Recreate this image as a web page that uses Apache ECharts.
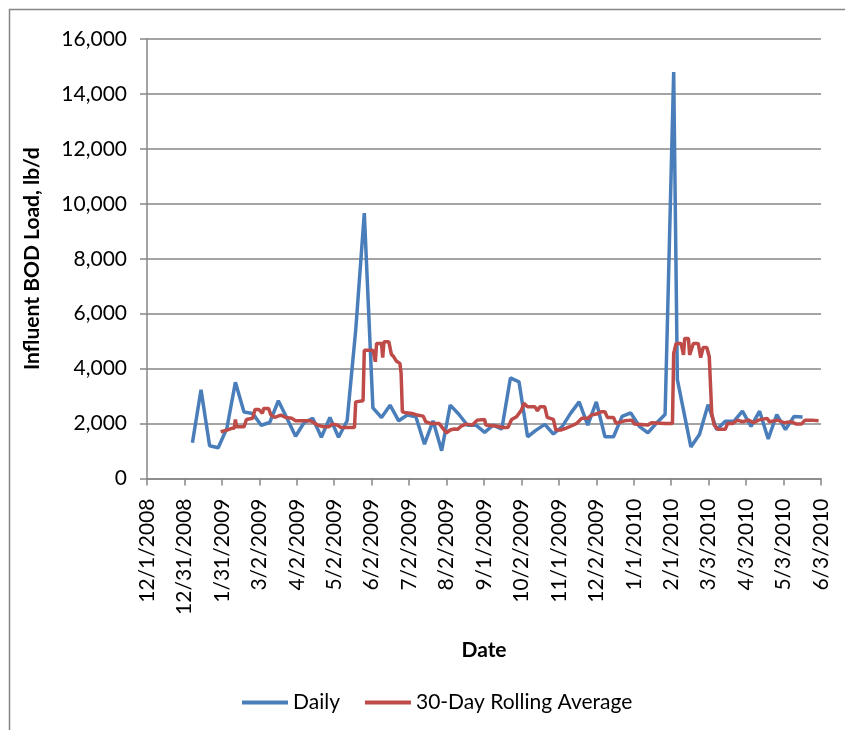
<!DOCTYPE html>
<html>
<head>
<meta charset="utf-8">
<script src="https://cdn.jsdelivr.net/npm/echarts@6/dist/echarts.min.js"></script>
<style>
  html, body { margin: 0; padding: 0; background: #fff; }
  #chart { width: 845px; height: 730px; }
</style>
</head>
<body>
<div id="chart"></div>
<script>
// weekly influent samples, lb/d
const dailyDates = [
  '2009-01-07', '2009-01-14', '2009-01-21', '2009-01-28', '2009-02-04', '2009-02-11',
  '2009-02-18', '2009-02-25', '2009-03-04', '2009-03-11', '2009-03-18', '2009-03-25',
  '2009-04-01', '2009-04-08', '2009-04-15', '2009-04-22', '2009-04-29', '2009-05-06',
  '2009-05-13', '2009-05-20', '2009-05-27', '2009-06-03', '2009-06-10', '2009-06-17',
  '2009-06-24', '2009-07-01', '2009-07-08', '2009-07-15', '2009-07-22', '2009-07-29',
  '2009-08-05', '2009-08-12', '2009-08-19', '2009-08-26', '2009-09-02', '2009-09-09',
  '2009-09-16', '2009-09-23', '2009-09-30', '2009-10-07', '2009-10-14', '2009-10-21',
  '2009-10-28', '2009-11-04', '2009-11-11', '2009-11-18', '2009-11-25', '2009-12-02',
  '2009-12-09', '2009-12-16', '2009-12-23', '2009-12-30', '2010-01-06', '2010-01-13',
  '2010-01-20', '2010-01-27', '2010-02-03', '2010-02-06', '2010-02-17', '2010-02-24',
  '2010-03-03', '2010-03-10', '2010-03-17', '2010-03-24', '2010-03-31', '2010-04-07',
  '2010-04-14', '2010-04-21', '2010-04-28', '2010-05-05', '2010-05-12', '2010-05-19'
]
const dailyLoad = [
  1300, 3230, 1190, 1120, 1820, 3500,
  2420, 2370, 1940, 2040, 2830, 2190,
  1540, 2040, 2190, 1500, 2220, 1500,
  2100, 5400, 9660, 2570, 2220, 2670,
  2100, 2310, 2250, 1250, 2100, 1010,
  2670, 2340, 1940, 1940, 1680, 1940,
  1800, 3660, 3520, 1520, 1760, 1970,
  1620, 1880, 2370, 2790, 1940, 2790,
  1520, 1520, 2260, 2390, 1900, 1660,
  2020, 2330, 14800, 3600, 1150, 1600,
  2690, 1780, 2080, 2080, 2450, 1900,
  2450, 1440, 2330, 1780, 2260, 2240
]

// 30-day rolling average (points where the level changes)
const avgDates = [
  '2009-01-30', '2009-02-04', '2009-02-08', '2009-02-10', '2009-02-11', '2009-02-12',
  '2009-02-18', '2009-02-20', '2009-02-25', '2009-02-27', '2009-03-02', '2009-03-05',
  '2009-03-06', '2009-03-10', '2009-03-12', '2009-03-15', '2009-03-20', '2009-03-24',
  '2009-03-29', '2009-04-01', '2009-04-13', '2009-04-16', '2009-04-19', '2009-04-24',
  '2009-04-28', '2009-05-01', '2009-05-05', '2009-05-08', '2009-05-19', '2009-05-20',
  '2009-05-26', '2009-05-27', '2009-06-03', '2009-06-05', '2009-06-06', '2009-06-10',
  '2009-06-11', '2009-06-12', '2009-06-16', '2009-06-18', '2009-06-20', '2009-06-22',
  '2009-06-25', '2009-06-26', '2009-06-27', '2009-06-30', '2009-07-05', '2009-07-09',
  '2009-07-14', '2009-07-16', '2009-07-20', '2009-07-27', '2009-07-30', '2009-08-02',
  '2009-08-05', '2009-08-08', '2009-08-11', '2009-08-14', '2009-08-18', '2009-08-23',
  '2009-08-27', '2009-09-02', '2009-09-03', '2009-09-11', '2009-09-17', '2009-09-21',
  '2009-09-24', '2009-09-28', '2009-10-02', '2009-10-04', '2009-10-07', '2009-10-13',
  '2009-10-15', '2009-10-17', '2009-10-21', '2009-10-23', '2009-10-28', '2009-10-30',
  '2009-11-03', '2009-11-07', '2009-11-12', '2009-11-16', '2009-11-20', '2009-11-25',
  '2009-11-28', '2009-12-02', '2009-12-06', '2009-12-09', '2009-12-11', '2009-12-16',
  '2009-12-18', '2009-12-25', '2009-12-31', '2010-01-02', '2010-01-13', '2010-01-16',
  '2010-01-27', '2010-02-02', '2010-02-03', '2010-02-05', '2010-02-09', '2010-02-11',
  '2010-02-12', '2010-02-15', '2010-02-16', '2010-02-19', '2010-02-23', '2010-02-25',
  '2010-02-27', '2010-03-02', '2010-03-04', '2010-03-06', '2010-03-08', '2010-03-11',
  '2010-03-17', '2010-03-19', '2010-03-23', '2010-03-27', '2010-03-31', '2010-04-05',
  '2010-04-09', '2010-04-13', '2010-04-20', '2010-04-22', '2010-04-29', '2010-05-04',
  '2010-05-10', '2010-05-14', '2010-05-18', '2010-05-21', '2010-05-26', '2010-06-01'
]
const avgLoad = [
  1700, 1760, 1825, 1825, 2150, 1880,
  1880, 2150, 2190, 2515, 2515, 2370,
  2550, 2550, 2310, 2225, 2310, 2225,
  2190, 2100, 2100, 2030, 1945, 1880,
  1880, 1980, 1945, 1860, 1860, 2790,
  2830, 4670, 4670, 4250, 4915, 4915,
  4400, 4975, 4975, 4525, 4430, 4280,
  4190, 3825, 2430, 2390, 2370, 2310,
  2270, 2065, 2005, 2005, 1825, 1665,
  1765, 1800, 1790, 1910, 1980, 1945,
  2125, 2150, 1945, 1910, 1860, 1860,
  2150, 2250, 2490, 2735, 2610, 2610,
  2465, 2610, 2610, 2225, 2150, 1765,
  1765, 1825, 1920, 2005, 2190, 2190,
  2310, 2345, 2430, 2430, 2225, 2225,
  2005, 2100, 2125, 1980, 1945, 2030,
  2005, 2005, 4550, 4915, 4915, 4500,
  5100, 5100, 4500, 4915, 4915, 4400,
  4770, 4770, 4430, 2370, 1945, 1790,
  1790, 2005, 2005, 2125, 2065, 2125,
  2030, 2125, 2190, 2065, 2125, 2030,
  2065, 1980, 1980, 2125, 2125, 2100
]

const DAY = 86400000
const start = Date.UTC(2008, 11, 1)
const toDay = s => (Date.parse(s) - start) / DAY

function dayLabel(v) {
  const d = new Date(start + Math.floor(v + 0.01) * DAY)
  return (d.getUTCMonth() + 1) + '/' + d.getUTCDate() + '/' + d.getUTCFullYear()
}

const font = 'Lato'
const gray = '#868686'

const chart = echarts.init(document.getElementById('chart'))
chart.setOption({
  backgroundColor: '#fff',
  animation: false,
  textStyle: { fontFamily: font, color: '#000' },
  graphic: [{
    type: 'rect',
    shape: { x: 9.5, y: 9.5, width: 1000, height: 1000 },
    style: { fill: null, stroke: gray, lineWidth: 1.5 },
    silent: true
  }],
  grid: { left: 147, top: 39, right: 24, bottom: 251.5, outerBoundsMode: 'none' },
  legend: {
    left: 237,
    top: 687,
    itemWidth: 46,
    itemHeight: 4,
    itemGap: 25,
    icon: 'rect',
    textStyle: { fontFamily: font, fontSize: 21, color: '#000' },
    data: ['Daily', '30-Day Rolling Average']
  },
  xAxis: {
    type: 'value',
    min: 0,
    max: 549,
    interval: 30.5,
    name: 'Date',
    nameLocation: 'middle',
    nameGap: 161,
    nameTextStyle: { fontFamily: font, fontSize: 21, fontWeight: 'bold', color: '#000', verticalAlign: 'top' },
    axisLine: { lineStyle: { color: gray, width: 1.5 } },
    axisTick: { show: true, length: 7, lineStyle: { color: gray, width: 1.5 } },
    axisLabel: {
      rotate: 90,
      margin: 20,
      fontFamily: font,
      fontSize: 21,
      color: '#000',
      showMaxLabel: true,
      showMinLabel: true,
      formatter: dayLabel
    },
    splitLine: { show: false }
  },
  yAxis: {
    type: 'value',
    min: 0,
    max: 16000,
    interval: 2000,
    name: 'Influent BOD Load, lb/d',
    nameLocation: 'middle',
    nameGap: 104,
    nameTextStyle: { fontFamily: font, fontSize: 21, fontWeight: 'bold', color: '#000' },
    axisLine: { show: true, lineStyle: { color: gray, width: 1.5 } },
    axisTick: { show: true, length: 7, lineStyle: { color: gray, width: 1.5 } },
    axisLabel: {
      margin: 20,
      fontFamily: font,
      fontSize: 21,
      color: '#000',
      formatter: v => v.toLocaleString('en-US')
    },
    splitLine: { lineStyle: { color: gray, width: 1.5 } }
  },
  series: [
    {
      name: 'Daily',
      type: 'line',
      showSymbol: false,
      color: '#4a7ebb',
      lineStyle: { width: 3.5, color: '#4a7ebb' },
      data: dailyDates.map((d, i) => [toDay(d), dailyLoad[i]])
    },
    {
      name: '30-Day Rolling Average',
      type: 'line',
      showSymbol: false,
      color: '#be4b48',
      lineStyle: { width: 3.5, color: '#be4b48' },
      data: avgDates.map((d, i) => [toDay(d), avgLoad[i]])
    }
  ]
})
</script>
</body>
</html>
